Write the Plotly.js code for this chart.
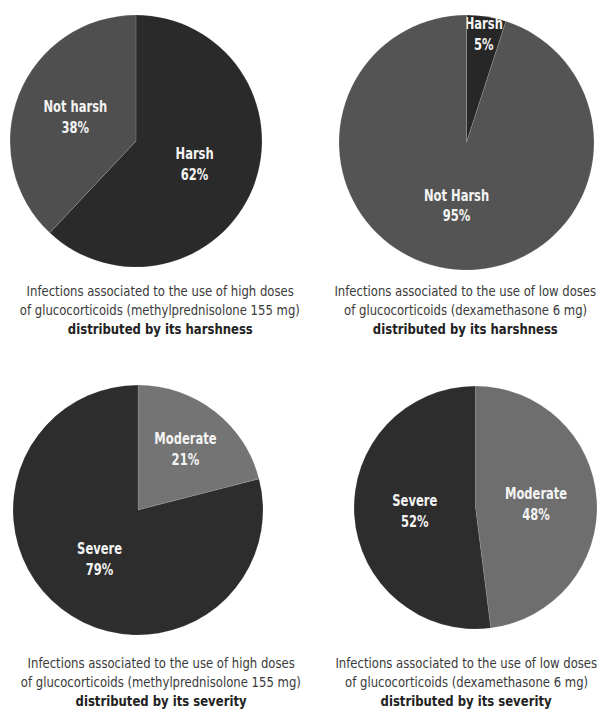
<!DOCTYPE html>
<html>
<head>
<meta charset="utf-8">
<script src="https://cdn.plot.ly/plotly-3.0.1.min.js"></script>
<style>html,body{margin:0;padding:0;background:#fff;}#chart{width:608px;height:711px;}</style>
</head>
<body>
<div id="chart"></div>
<script>
// Data
const harshLabelsHigh = ["Harsh", "Not harsh"];
const harshValuesHigh = [62, 38];
const harshLabelsLow = ["Harsh", "Not Harsh"];
const harshValuesLow = [5, 95];
const severityLabels = ["Moderate", "Severe"];
const severityValuesHigh = [21, 79];
const severityValuesLow = [48, 52];
const captionLine1 = [
  "Infections associated to the use of high doses",
  "Infections associated to the use of low doses",
  "Infections associated to the use of high doses",
  "Infections associated to the use of low doses"
];
const captionLine2 = [
  "of glucocorticoids (methylprednisolone 155 mg)",
  "of glucocorticoids (dexamethasone 6 mg)",
  "of glucocorticoids (methylprednisolone 155 mg)",
  "of glucocorticoids (dexamethasone 6 mg)"
];
const captionLine3 = [
  "distributed by its harshness",
  "distributed by its harshness",
  "distributed by its severity",
  "distributed by its severity"
];

const W = 608, H = 711;
const FONT = "'DejaVu Sans Condensed', 'Liberation Sans Narrow', sans-serif";

function px(x0, x1) { return [x0 / W, x1 / W]; }
function py(top, bottom) { return [1 - bottom / H, 1 - top / H]; }

function pie(labels, values, colors, xd, yd) {
  return {
    type: "pie",
    labels: labels,
    values: values,
    sort: false,
    direction: "clockwise",
    rotation: 0,
    marker: { colors: colors, line: { color: "rgba(255,255,255,0.25)", width: 0.5 } },
    texttemplate: "<b>%{label}</b><br><b>%{value}%</b>",
    textposition: "inside",
    insidetextorientation: "horizontal",
    textfont: { color: "#f4f4f4", size: 16, family: FONT },
    hoverinfo: "label+percent",
    showlegend: false,
    domain: { x: xd, y: yd }
  };
}

const data = [
  pie(harshLabelsHigh, harshValuesHigh, ["#2a2a2a", "#4f4f4f"], px(9, 263), py(15, 267)),
  pie(harshLabelsLow, harshValuesLow, ["#272727", "#545454"], px(339, 594), py(15, 270)),
  pie(severityLabels, severityValuesHigh, ["#747474", "#2d2d2d"], px(8, 268), py(385, 635)),
  pie(severityLabels, severityValuesLow, ["#6e6e6e", "#2d2d2d"], px(354, 597), py(385, 630))
];

const capX = [160, 465, 161, 466];
const capY = [290.5, 290.5, 662.5, 662.5];
const annotations = [];
for (let i = 0; i < 4; i++) {
  const lines = [captionLine1[i], captionLine2[i], "<b>" + captionLine3[i] + "</b>"];
  lines.forEach((t, j) => {
    annotations.push({
      xref: "paper", yref: "paper",
      x: capX[i] / W, y: 1 - (capY[i] + j * 19.3) / H,
      xanchor: "center", yanchor: "middle",
      text: t, showarrow: false,
      font: { family: FONT, size: 13.5, color: j === 2 ? "#222222" : "#3a3a3a" }
    });
  });
}

const layout = {
  width: W, height: H,
  margin: { l: 0, r: 0, t: 0, b: 0 },
  paper_bgcolor: "#ffffff",
  uniformtext: { mode: "show", minsize: 16 },
  annotations: annotations
};

function condense(el, f) {
  try {
    const w = el.getComputedTextLength();
    if (w > 0) {
      el.setAttribute("textLength", (w * f).toFixed(2));
      el.setAttribute("lengthAdjust", "spacingAndGlyphs");
      return w * (1 - f);
    }
  } catch (e) {}
  return 0;
}

Plotly.newPlot("chart", data, layout, { displayModeBar: false, staticPlot: true }).then(function (gd) {
  gd.querySelectorAll("g.annotation").forEach(function (g) {
    const el = g.querySelector("text.annotation-text");
    if (!el) return;
    const shrink = condense(el, 0.96);
    g.querySelectorAll("rect").forEach(function (r) {
      const ow = parseFloat(r.getAttribute("width")) || 0;
      if (ow > shrink) {
        const ox = parseFloat(r.getAttribute("x")) || 0;
        r.setAttribute("width", (ow - shrink).toFixed(2));
        r.setAttribute("x", (ox + shrink / 2).toFixed(2));
      }
    });
  });
  gd.querySelectorAll("g.slicetext text").forEach(function (el) {
    const lines = el.querySelectorAll("tspan.line");
    if (lines.length) lines.forEach(function (l) { condense(l, 0.8); });
    else condense(el, 0.8);
  });
});
</script>
</body>
</html>
